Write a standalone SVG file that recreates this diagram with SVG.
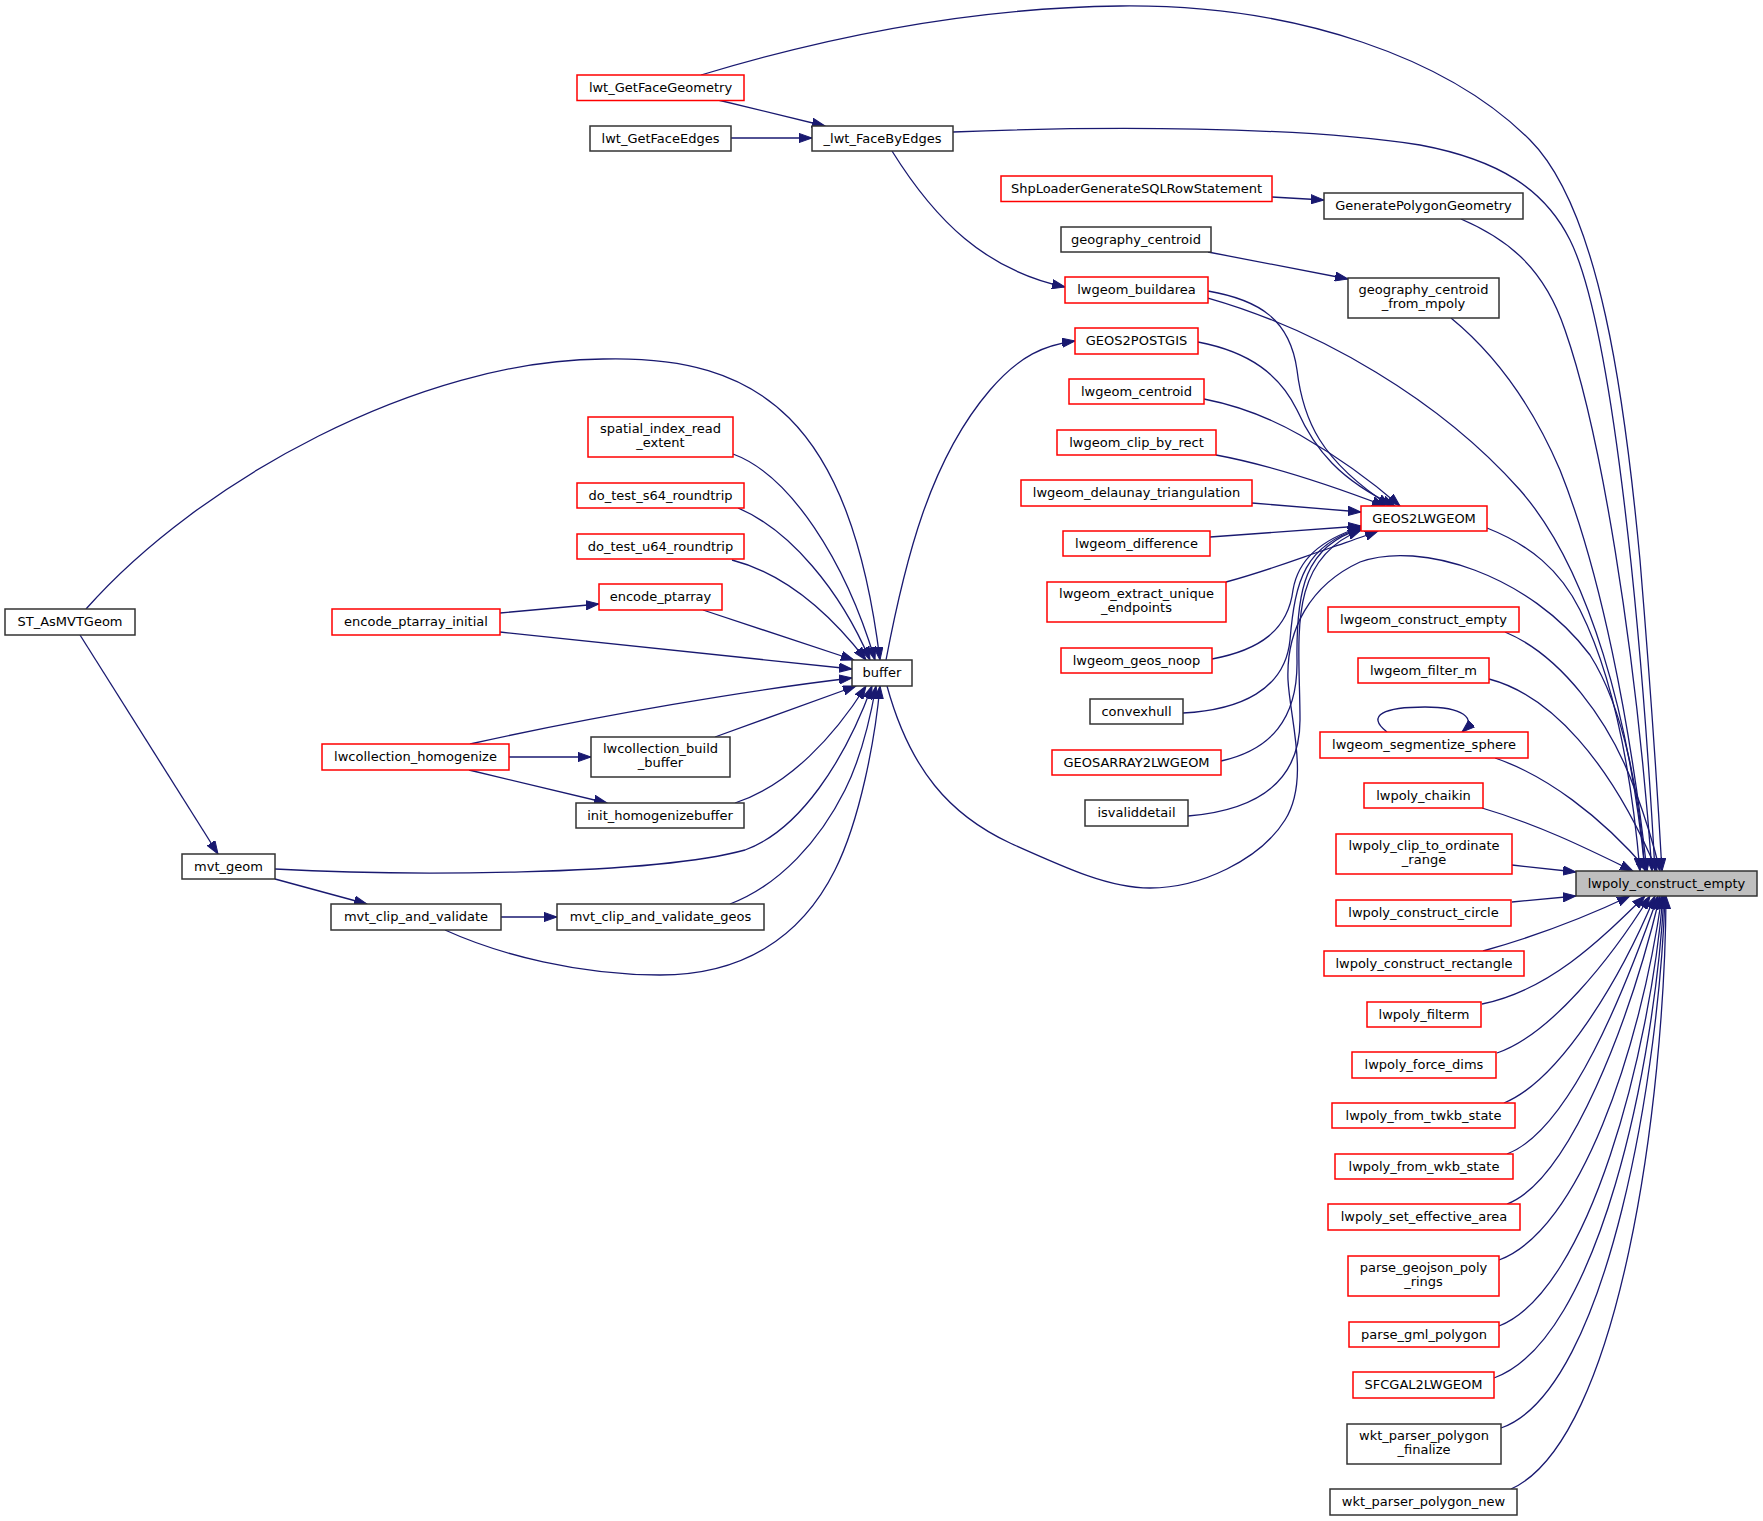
<svg xmlns="http://www.w3.org/2000/svg" width="1763" height="1521" viewBox="0 0 1763 1521">
<style>
rect{stroke-width:1.5}
.r rect{fill:#fff;stroke:#ff0000}
.b rect{fill:#fff;stroke:#333333}
.g rect{fill:#bfbfbf;stroke:#333333}
text{font-family:"DejaVu Sans","Liberation Sans",sans-serif;font-size:13px;fill:#000;text-anchor:middle}
#edges path{fill:none;stroke:#191970;stroke-width:1.3;marker-end:url(#ah)}
</style>
<defs>
<marker id="ah" markerWidth="14" markerHeight="10" refX="13" refY="5" orient="auto" markerUnits="userSpaceOnUse">
<path d="M0,0.4 L13,5 L0,9.6 z" fill="#191970" stroke="#191970" stroke-width="1"/>
</marker>
</defs>
<rect x="0" y="0" width="1763" height="1521" fill="#fff" stroke="none"/>
<g id="edges">
<path d="M701,75 C800,45 950,8 1120,6 C1300,4 1450,60 1530,140 C1600,210 1625,400 1640,560 C1650,680 1658,800 1662,871"/>
<path d="M718,100 L825,126"/>
<path d="M731,138 L812,138"/>
<path d="M953,132 C1100,126 1300,126 1420,145 C1500,160 1545,190 1570,240 C1610,320 1640,600 1655,871"/>
<path d="M892,151 C935,220 985,270 1065,287"/>
<path d="M1272,197 L1324,200"/>
<path d="M1461,219 C1510,240 1545,270 1565,330 C1600,430 1635,640 1652,871"/>
<path d="M1208,252 L1348,279"/>
<path d="M1451,318 C1490,350 1530,400 1560,470 C1600,570 1630,720 1647,871"/>
<path d="M1208,291 C1260,300 1290,320 1297,370 C1303,420 1320,460 1390,506"/>
<path d="M1208,298 C1320,330 1440,400 1520,490 C1590,570 1630,720 1645,871"/>
<path d="M1198,342 C1250,352 1280,375 1297,410 C1315,450 1340,480 1395,506"/>
<path d="M1204,399 C1240,406 1270,418 1300,435 C1340,458 1370,480 1400,506"/>
<path d="M1216,455 C1270,465 1330,485 1385,506"/>
<path d="M1252,503 L1361,512"/>
<path d="M1210,537 L1361,526"/>
<path d="M1226,582 C1270,570 1300,558 1330,548 C1350,541 1365,536 1378,531"/>
<path d="M1212,659 C1260,650 1288,630 1293,590 C1298,560 1320,540 1361,527"/>
<path d="M1183,713 C1240,710 1285,690 1290,640 C1295,580 1305,545 1361,528"/>
<path d="M1221,761 C1270,750 1298,720 1297,660 C1296,590 1305,545 1361,529"/>
<path d="M1188,816 C1260,810 1300,780 1300,720 C1300,640 1285,560 1361,530"/>
<path d="M1487,528 C1530,545 1560,570 1580,610 C1615,680 1632,780 1640,871"/>
<path d="M886,660 C905,560 930,460 990,390 C1020,355 1045,345 1075,341"/>
<path d="M887,686 C910,770 950,815 1010,843 C1070,870 1110,888 1150,888 C1200,888 1260,860 1285,820 C1310,780 1290,720 1288,680 C1286,630 1310,585 1360,562 C1420,540 1530,575 1590,655 C1625,710 1640,800 1645,871"/>
<path d="M86,609 C200,480 420,360 603,359 C760,355 850,420 880,660"/>
<path d="M80,635 L218,854"/>
<path d="M733,454 C790,475 845,560 875,660"/>
<path d="M738,508 C790,530 840,590 870,660"/>
<path d="M732,560 C790,575 835,620 866,660"/>
<path d="M703,610 L854,660"/>
<path d="M500,613 L599,604"/>
<path d="M500,632 L852,669"/>
<path d="M470,744 C600,715 750,690 852,678"/>
<path d="M509,757 L591,757"/>
<path d="M469,770 L607,803"/>
<path d="M715,737 L856,686"/>
<path d="M735,803 C790,785 835,735 866,686"/>
<path d="M275,869 C400,876 650,876 745,850 C800,830 845,760 872,686"/>
<path d="M275,879 L367,904"/>
<path d="M501,917 L557,917"/>
<path d="M445,930 C500,955 580,975 660,975 C740,975 800,940 835,870 C860,820 875,740 880,686"/>
<path d="M730,904 C780,885 820,840 845,790 C860,760 870,720 876,686"/>
<path d="M1505,632 C1560,655 1610,720 1635,790 C1650,830 1655,850 1660,871"/>
<path d="M1489,679 C1550,695 1610,760 1657,871"/>
<path d="M1387,732 C1365,715 1385,707 1425,707 C1462,707 1478,718 1462,732"/>
<path d="M1495,758 C1545,775 1600,815 1648,871"/>
<path d="M1482,808 C1540,825 1590,850 1633,871"/>
<path d="M1512,865 L1576,872"/>
<path d="M1512,902 L1576,896"/>
<path d="M1483,951 C1540,935 1590,915 1630,896"/>
<path d="M1482,1004 C1550,990 1600,940 1645,896"/>
<path d="M1497,1053 C1550,1035 1610,960 1650,896"/>
<path d="M1504,1103 C1560,1080 1620,980 1655,896"/>
<path d="M1507,1154 C1570,1130 1625,990 1658,896"/>
<path d="M1507,1204 C1570,1180 1630,1020 1660,896"/>
<path d="M1499,1260 C1580,1230 1640,1050 1662,896"/>
<path d="M1499,1326 C1590,1290 1650,1050 1663,896"/>
<path d="M1494,1378 C1600,1340 1655,1060 1664,896"/>
<path d="M1501,1428 C1610,1390 1660,1060 1665,896"/>
<path d="M1511,1489 C1620,1440 1665,1100 1666,896"/>
</g>
<g id="n_lwt_GetFaceGeometry" class="r"><rect x="577" y="75" width="167" height="25.5"/><text x="660.5" y="92">lwt_GetFaceGeometry</text></g>
<g id="n_lwt_GetFaceEdges" class="b"><rect x="590" y="126" width="141" height="25"/><text x="660.5" y="142.8">lwt_GetFaceEdges</text></g>
<g id="n__lwt_FaceByEdges" class="b"><rect x="812" y="126" width="141" height="25"/><text x="882.5" y="142.8">_lwt_FaceByEdges</text></g>
<g id="n_ShpLoaderGenerateSQLRowStatement" class="r"><rect x="1001" y="176" width="271" height="25.5"/><text x="1136.5" y="193">ShpLoaderGenerateSQLRowStatement</text></g>
<g id="n_GeneratePolygonGeometry" class="b"><rect x="1324" y="193" width="199" height="26"/><text x="1423.5" y="210.3">GeneratePolygonGeometry</text></g>
<g id="n_geography_centroid" class="b"><rect x="1061" y="227" width="150" height="25"/><text x="1136" y="243.8">geography_centroid</text></g>
<g id="n_lwgeom_buildarea" class="r"><rect x="1065" y="277" width="143" height="26"/><text x="1136.5" y="294.3">lwgeom_buildarea</text></g>
<g id="n_geography_centroid_from_mpoly" class="b"><rect x="1348" y="278" width="151" height="40"/><text x="1423.5" y="294">geography_centroid<tspan x="1423.5" y="308">_from_mpoly</tspan></text></g>
<g id="n_GEOS2POSTGIS" class="r"><rect x="1075" y="328" width="123" height="26"/><text x="1136.5" y="345.3">GEOS2POSTGIS</text></g>
<g id="n_lwgeom_centroid" class="r"><rect x="1069" y="379" width="135" height="25"/><text x="1136.5" y="395.8">lwgeom_centroid</text></g>
<g id="n_lwgeom_clip_by_rect" class="r"><rect x="1057" y="430" width="159" height="25"/><text x="1136.5" y="446.8">lwgeom_clip_by_rect</text></g>
<g id="n_lwgeom_delaunay_triangulation" class="r"><rect x="1021" y="480" width="231" height="26"/><text x="1136.5" y="497.3">lwgeom_delaunay_triangulation</text></g>
<g id="n_GEOS2LWGEOM" class="r"><rect x="1361" y="506" width="126" height="25"/><text x="1424" y="522.8">GEOS2LWGEOM</text></g>
<g id="n_lwgeom_difference" class="r"><rect x="1063" y="531" width="147" height="25"/><text x="1136.5" y="547.8">lwgeom_difference</text></g>
<g id="n_lwgeom_extract_unique_endpoints" class="r"><rect x="1047" y="582" width="179" height="40"/><text x="1136.5" y="598">lwgeom_extract_unique<tspan x="1136.5" y="612">_endpoints</tspan></text></g>
<g id="n_lwgeom_geos_noop" class="r"><rect x="1061" y="648" width="151" height="25"/><text x="1136.5" y="664.8">lwgeom_geos_noop</text></g>
<g id="n_convexhull" class="b"><rect x="1090" y="699" width="93" height="25"/><text x="1136.5" y="715.8">convexhull</text></g>
<g id="n_GEOSARRAY2LWGEOM" class="r"><rect x="1052" y="750" width="169" height="25"/><text x="1136.5" y="766.8">GEOSARRAY2LWGEOM</text></g>
<g id="n_isvaliddetail" class="b"><rect x="1085" y="800" width="103" height="26"/><text x="1136.5" y="817.3">isvaliddetail</text></g>
<g id="n_lwgeom_construct_empty" class="r"><rect x="1328" y="607" width="191" height="25"/><text x="1423.5" y="623.8">lwgeom_construct_empty</text></g>
<g id="n_lwgeom_filter_m" class="r"><rect x="1358" y="658" width="131" height="25"/><text x="1423.5" y="674.8">lwgeom_filter_m</text></g>
<g id="n_lwgeom_segmentize_sphere" class="r"><rect x="1320" y="732" width="208" height="26"/><text x="1424" y="749.3">lwgeom_segmentize_sphere</text></g>
<g id="n_lwpoly_chaikin" class="r"><rect x="1364" y="783" width="119" height="25"/><text x="1423.5" y="799.8">lwpoly_chaikin</text></g>
<g id="n_lwpoly_clip_to_ordinate_range" class="r"><rect x="1336" y="834" width="176" height="40"/><text x="1424" y="850">lwpoly_clip_to_ordinate<tspan x="1424" y="864">_range</tspan></text></g>
<g id="n_lwpoly_construct_empty" class="g"><rect x="1576" y="871" width="181" height="25"/><text x="1666.5" y="887.8">lwpoly_construct_empty</text></g>
<g id="n_lwpoly_construct_circle" class="r"><rect x="1336" y="900" width="175" height="26"/><text x="1423.5" y="917.3">lwpoly_construct_circle</text></g>
<g id="n_lwpoly_construct_rectangle" class="r"><rect x="1324" y="951" width="200" height="25"/><text x="1424" y="967.8">lwpoly_construct_rectangle</text></g>
<g id="n_lwpoly_filterm" class="r"><rect x="1367" y="1002" width="114" height="25"/><text x="1424" y="1018.8">lwpoly_filterm</text></g>
<g id="n_lwpoly_force_dims" class="r"><rect x="1352" y="1052" width="144" height="26"/><text x="1424" y="1069.3">lwpoly_force_dims</text></g>
<g id="n_lwpoly_from_twkb_state" class="r"><rect x="1332" y="1103" width="183" height="25"/><text x="1423.5" y="1119.8">lwpoly_from_twkb_state</text></g>
<g id="n_lwpoly_from_wkb_state" class="r"><rect x="1335" y="1154" width="178" height="25"/><text x="1424" y="1170.8">lwpoly_from_wkb_state</text></g>
<g id="n_lwpoly_set_effective_area" class="r"><rect x="1328" y="1204" width="192" height="26"/><text x="1424" y="1221.3">lwpoly_set_effective_area</text></g>
<g id="n_parse_geojson_poly_rings" class="r"><rect x="1348" y="1256" width="151" height="40"/><text x="1423.5" y="1272">parse_geojson_poly<tspan x="1423.5" y="1286">_rings</tspan></text></g>
<g id="n_parse_gml_polygon" class="r"><rect x="1349" y="1322" width="150" height="25"/><text x="1424" y="1338.8">parse_gml_polygon</text></g>
<g id="n_SFCGAL2LWGEOM" class="r"><rect x="1353" y="1372" width="141" height="26"/><text x="1423.5" y="1389.3">SFCGAL2LWGEOM</text></g>
<g id="n_wkt_parser_polygon_finalize" class="b"><rect x="1347" y="1424" width="154" height="40"/><text x="1424" y="1440">wkt_parser_polygon<tspan x="1424" y="1454">_finalize</tspan></text></g>
<g id="n_wkt_parser_polygon_new" class="b"><rect x="1330" y="1489" width="187" height="26"/><text x="1423.5" y="1506.3">wkt_parser_polygon_new</text></g>
<g id="n_buffer" class="b"><rect x="852" y="660" width="60" height="26"/><text x="882" y="677.3">buffer</text></g>
<g id="n_spatial_index_read_extent" class="r"><rect x="588" y="417" width="145" height="40"/><text x="660.5" y="433">spatial_index_read<tspan x="660.5" y="447">_extent</tspan></text></g>
<g id="n_do_test_s64_roundtrip" class="r"><rect x="577" y="483" width="167" height="25"/><text x="660.5" y="499.8">do_test_s64_roundtrip</text></g>
<g id="n_do_test_u64_roundtrip" class="r"><rect x="577" y="534" width="167" height="25"/><text x="660.5" y="550.8">do_test_u64_roundtrip</text></g>
<g id="n_encode_ptarray" class="r"><rect x="599" y="584" width="123" height="26"/><text x="660.5" y="601.3">encode_ptarray</text></g>
<g id="n_lwcollection_build_buffer" class="b"><rect x="591" y="737" width="139" height="40"/><text x="660.5" y="753">lwcollection_build<tspan x="660.5" y="767">_buffer</tspan></text></g>
<g id="n_init_homogenizebuffer" class="b"><rect x="576" y="803" width="168" height="25"/><text x="660" y="819.8">init_homogenizebuffer</text></g>
<g id="n_mvt_clip_and_validate_geos" class="b"><rect x="557" y="904" width="207" height="26"/><text x="660.5" y="921.3">mvt_clip_and_validate_geos</text></g>
<g id="n_ST_AsMVTGeom" class="b"><rect x="5" y="609" width="130" height="26"/><text x="70" y="626.3">ST_AsMVTGeom</text></g>
<g id="n_encode_ptarray_initial" class="r"><rect x="332" y="609" width="168" height="26"/><text x="416" y="626.3">encode_ptarray_initial</text></g>
<g id="n_lwcollection_homogenize" class="r"><rect x="322" y="744" width="187" height="26"/><text x="415.5" y="761.3">lwcollection_homogenize</text></g>
<g id="n_mvt_geom" class="b"><rect x="182" y="854" width="93" height="25"/><text x="228.5" y="870.8">mvt_geom</text></g>
<g id="n_mvt_clip_and_validate" class="b"><rect x="331" y="904" width="170" height="26"/><text x="416" y="921.3">mvt_clip_and_validate</text></g>
</svg>
